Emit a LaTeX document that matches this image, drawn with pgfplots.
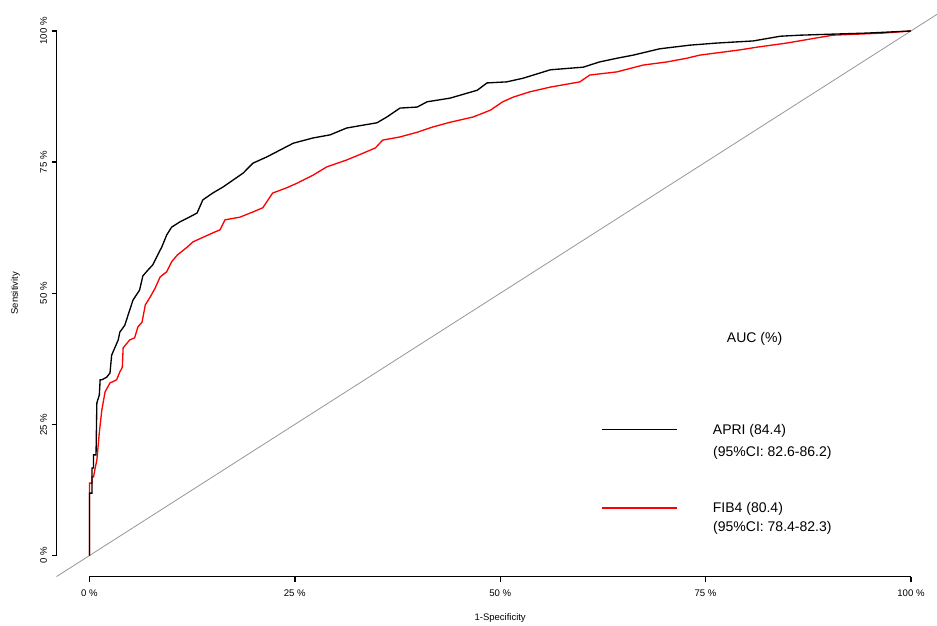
\documentclass[border=0pt]{standalone}
\usepackage{fontspec}
\setmainfont{Liberation Sans}
\usepackage{pgfplots}
\pgfplotsset{compat=1.18}
\definecolor{diaggray}{RGB}{150,150,150}
\begin{document}
\begin{tikzpicture}
\begin{axis}[
  name=ax,
  scale only axis,
  width=665.4pt, height=424.9pt,
  xmin=-0.04, xmax=1.04, ymin=-0.04, ymax=1.04,
  clip=false,
  axis line style={draw=none},
  xtick={0,0.25,0.5,0.75,1},
  xticklabels={0 \%,25 \%,50 \%,75 \%,100 \%},
  ytick={0,0.25,0.5,0.75,1},
  yticklabels={0 \%,25 \%,50 \%,75 \%,100 \%},
  xtick pos=bottom, ytick pos=left,
  tick align=outside,
  major tick length=3.75pt,
  tick style={black, line width=1pt},
  ticklabel style={font=\fontsize{7.2}{8}\selectfont},
  xticklabel style={yshift=-3pt},
  yticklabel style={rotate=90, anchor=south},
  xlabel={1-Specificity}, ylabel={Sensitivity},
  label style={font=\fontsize{7.1}{8}\selectfont},
  xlabel style={at={(axis description cs:0.5,-0.0733)}, anchor=center},
  ylabel style={at={(axis description cs:-0.0463,0.5)}, anchor=center},
]
\draw[black, line width=1pt] (axis cs:-0.04,0) -- (axis cs:-0.04,1);
\draw[black, line width=1pt] (axis cs:0,-0.04) -- (axis cs:1,-0.04);

\addplot[diaggray, line width=0.6pt] coordinates {(-0.04,-0.04) (1.04,1.04)};

% FIB4
\addplot[red, line width=1pt] coordinates {
(0,0) (0,0.138) (0.003,0.138) (0.003,0.150) (0.005,0.150) (0.007,0.167)
(0.009,0.182) (0.012,0.234) (0.015,0.277) (0.019,0.312) (0.025,0.329)
(0.033,0.335) (0.037,0.350) (0.040,0.359) (0.041,0.396) (0.049,0.411)
(0.055,0.415) (0.059,0.436) (0.064,0.445) (0.068,0.478) (0.074,0.493)
(0.080,0.510) (0.086,0.531) (0.094,0.541) (0.100,0.560) (0.107,0.573)
(0.119,0.588) (0.126,0.598) (0.150,0.615) (0.159,0.621) (0.165,0.640)
(0.183,0.645) (0.199,0.655) (0.211,0.663) (0.223,0.691) (0.240,0.701)
(0.253,0.710) (0.272,0.725) (0.289,0.741) (0.313,0.754) (0.333,0.767)
(0.348,0.777) (0.357,0.792) (0.378,0.798) (0.399,0.807) (0.418,0.817)
(0.439,0.826) (0.467,0.836) (0.488,0.849) (0.503,0.865) (0.516,0.874)
(0.536,0.884) (0.561,0.893) (0.597,0.903) (0.609,0.916) (0.642,0.922)
(0.674,0.935) (0.703,0.941) (0.727,0.948) (0.743,0.954) (0.792,0.964)
(0.812,0.969) (0.849,0.977) (0.886,0.987) (0.905,0.992) (0.966,0.996)
(1,1)};

% APRI
\addplot[black, line width=1pt] coordinates {
(0,0) (0,0.119) (0.003,0.119) (0.003,0.167) (0.005,0.167) (0.005,0.192)
(0.008,0.192) (0.009,0.291) (0.012,0.306) (0.013,0.335) (0.015,0.335)
(0.021,0.340) (0.025,0.348) (0.027,0.382) (0.035,0.411) (0.037,0.426)
(0.043,0.439) (0.049,0.468) (0.053,0.487) (0.061,0.506) (0.065,0.533)
(0.071,0.544) (0.077,0.554) (0.083,0.573) (0.088,0.588) (0.094,0.611)
(0.100,0.626) (0.110,0.636) (0.119,0.643) (0.131,0.653) (0.138,0.678)
(0.150,0.691) (0.163,0.703) (0.175,0.716) (0.187,0.729) (0.199,0.748)
(0.216,0.760) (0.232,0.773) (0.248,0.786) (0.272,0.796) (0.293,0.802)
(0.313,0.815) (0.335,0.821) (0.350,0.825) (0.362,0.836) (0.378,0.853)
(0.399,0.855) (0.411,0.865) (0.439,0.872) (0.472,0.887) (0.484,0.901)
(0.508,0.903) (0.528,0.910) (0.561,0.926) (0.601,0.931) (0.621,0.941)
(0.642,0.948) (0.662,0.954) (0.694,0.966) (0.731,0.973) (0.764,0.977)
(0.808,0.981) (0.841,0.990) (0.865,0.992) (0.905,0.994) (0.947,0.996)
(1,1)};

% legend
\node[anchor=west, inner sep=0pt, font=\fontsize{10.5}{12}\selectfont] at (axis cs:0.7757,0.4122) {AUC (\%)};
\draw[black, line width=0.9pt] (axis cs:0.6235,0.2405) -- (axis cs:0.7148,0.2405);
\node[anchor=west, inner sep=0pt, font=\fontsize{10.5}{12}\selectfont] at (axis cs:0.7586,0.2379) {APRI (84.4)};
\node[anchor=west, inner sep=0pt, font=\fontsize{10.5}{12}\selectfont] at (axis cs:0.759,0.1949) {(95\%CI: 82.6-86.2)};
\draw[red, line width=0.9pt] (axis cs:0.6235,0.0905) -- (axis cs:0.7148,0.0905);
\node[anchor=west, inner sep=0pt, font=\fontsize{10.5}{12}\selectfont] at (axis cs:0.7586,0.0881) {FIB4 (80.4)};
\node[anchor=west, inner sep=0pt, font=\fontsize{10.5}{12}\selectfont] at (axis cs:0.759,0.0519) {(95\%CI: 78.4-82.3)};
\end{axis}
\pgfresetboundingbox
\path[use as bounding box] ([shift={(-42.45pt,-36.4pt)}]ax.south west) rectangle ([shift={(660.3pt,432.4pt)}]ax.south west);
\end{tikzpicture}
\end{document}
